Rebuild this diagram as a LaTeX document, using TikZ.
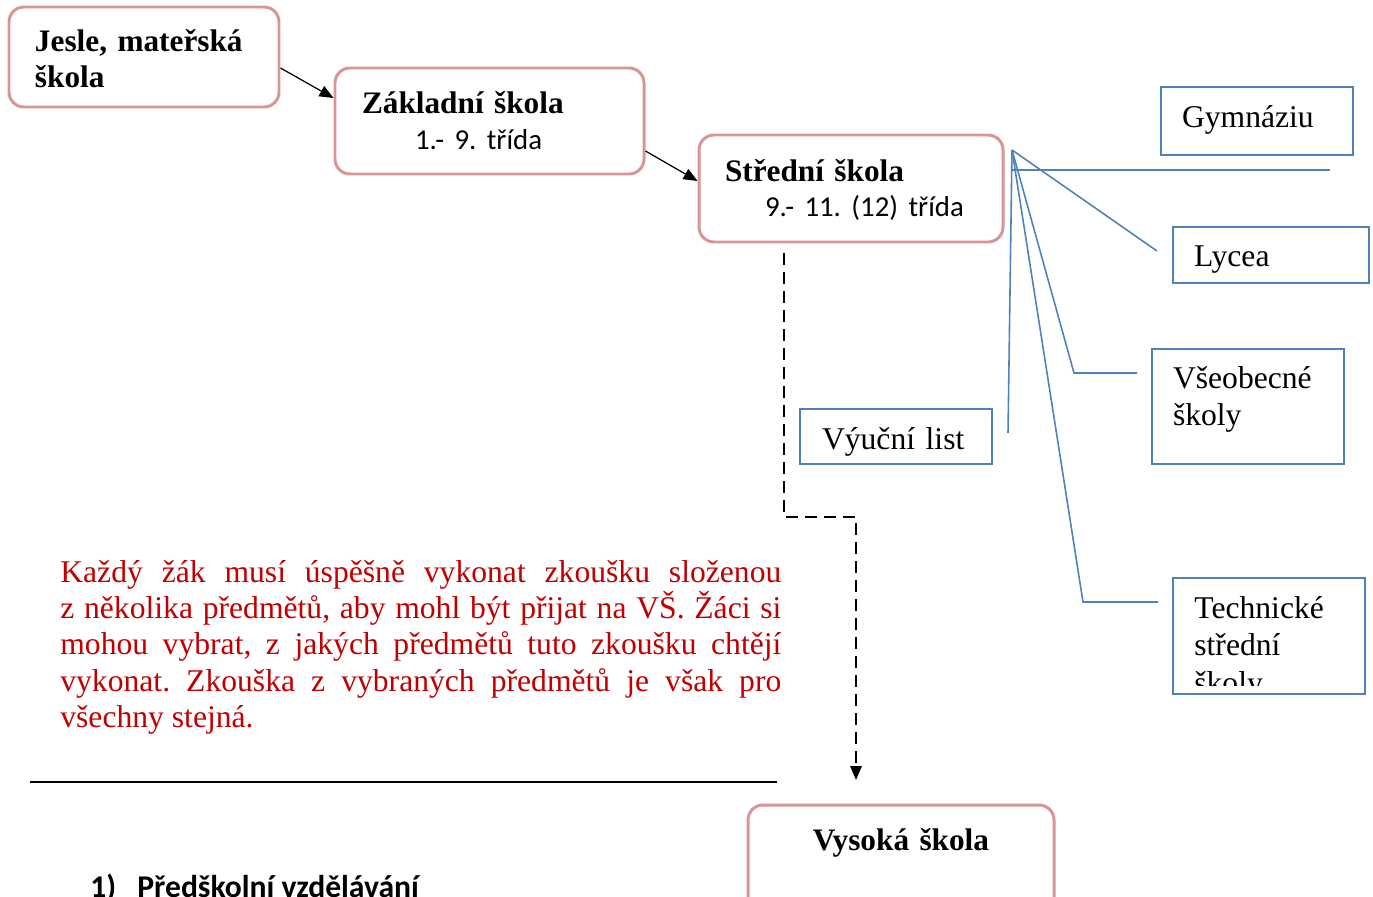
\documentclass[tikz,border=0pt]{standalone}
\usepackage{fontspec}
\setmainfont{Liberation Serif}
\newfontfamily\calibri{Carlito}
\usetikzlibrary{arrows.meta}
\definecolor{boxpink}{HTML}{D99594}
\definecolor{boxblue}{HTML}{4F81BD}
\definecolor{notered}{HTML}{C00000}
\newcommand\tridafont{\calibri\mdseries\fontsize{16.4}{19.8}\selectfont}
\frenchspacing

\begin{document}
\begin{tikzpicture}[x=0.2mm,y=-0.2mm,
  school node/.style={draw=boxpink,line width=1.7pt,rounded corners=3mm,inner ysep=0pt,
    align=left,font=\bfseries\frenchspacing\fontsize{17.8}{20.4}\selectfont},
  type node/.style={draw=boxblue,line width=1.1pt,inner xsep=4.2mm,inner ysep=0pt,
    text width=30mm,align=left,font=\fontsize{18}{21.5}\selectfont},
  fan line/.style={boxblue,line width=0.9pt},
  link/.style={line width=0.7pt,-{Triangle[length=2.8mm,width=2.3mm]}},
  drop line/.style={line width=1pt,dash pattern=on 2.4mm off 1.4mm,
    -{Triangle[length=2.8mm,width=2.3mm]}}]

  \clip (0,0) rectangle (1373,896);

  % school levels
  \node[school node,text width=43.6mm,inner xsep=5.2mm,minimum height=20mm,
    text height=0pt,text depth=2.1mm] (jesle) at (144,57)
    {\mbox{Jesle, mateřská}\\škola};
  \node[school node,text width=51mm,inner xsep=5.4mm,minimum height=21.2mm,
    text height=0pt,text depth=3.1mm] (zakladni) at (489.5,121)
    {Základní škola\\\hspace*{10.6mm}\tridafont 1.- 9. třída};
  \node[school node,text width=50.4mm,inner xsep=5.2mm,minimum height=21.4mm,
    text height=0pt,text depth=3mm] (stredni) at (851,188.5)
    {Střední škola\\\hspace*{8mm}\tridafont 9.- 11. (12) třída};
  \node[school node,align=center,text width=50.4mm,inner xsep=5.4mm,minimum height=21.4mm,
    text height=0pt,text depth=3.4mm] (vysoka) at (901,858.5)
    {Vysoká škola};

  \draw[link] ([yshift=-2.2mm]jesle.east) -- ([yshift=4.6mm]zakladni.west);
  \draw[link] ([yshift=-6mm]zakladni.east) -- ([yshift=1.5mm]stredni.west);

  % types of secondary schools
  \node[type node,minimum height=13.6mm,text height=2.4mm,text depth=0pt] (gym) at (1257,121) {Gymnáziu};
  \node[type node,text width=30.8mm,minimum height=11.2mm,text height=4.7mm,text depth=0pt] (lycea) at (1271,255) {Lycea};
  \node[type node,minimum height=23mm,text height=0pt,text depth=7.4mm] (vseob) at (1248,406.5) {Všeobecné\\školy};
  \node[type node,text width=29.6mm,inner xsep=4.4mm,minimum height=11mm,text height=5mm,text depth=0pt] (vyucni) at (896,436.5) {Výuční list};
  \node[type node,minimum height=23.2mm] (tech) at (1269,636) {};
  \begin{scope}
    \clip (1173,578) rectangle (1365,685);
    \node[anchor=base west,inner sep=0pt,text width=30mm,align=left,
      font=\fontsize{18}{21.5}\selectfont] (techtext) at (1194,618) {Technické\\střední\\školy};
  \end{scope}

  \coordinate (fan) at (1012,150);
  \coordinate (gymstart) at (1012,170);
  \coordinate (gymend) at (1330,170);
  \coordinate (lycend) at (1157,251);
  \coordinate (vseend) at (1137,373);
  \coordinate (techend) at (1158,602);
  \coordinate (vyucend) at (1008,433);
  \draw[fan line] (gymstart) -- (gymend);
  \draw[fan line] (fan) -- (lycend);
  \draw[fan line] (fan) -- (1074,373) -- (vseend);
  \draw[fan line] (fan) -- (1083,602) -- (techend);
  \draw[fan line] (fan) -- (vyucend);

  % way to the university
  \coordinate (drop) at (784,253);
  \coordinate (turn) at (856,517);
  \coordinate (land) at (856,780);
  \draw[drop line] (drop) |- (turn) -- (land);

  \node[anchor=base west,inner sep=0pt,text width=144.2mm,align=justify,text=notered,
    font=\fontsize{18}{20.7}\selectfont] (note) at (60,582)
    {\hyphenpenalty=10000 Každý žák musí úspěšně vykonat zkoušku složenou\linebreak
     z několika předmětů, aby mohl být přijat na VŠ. Žáci si\linebreak
     mohou vybrat, z jakých předmětů tuto zkoušku chtějí\linebreak
     vykonat. Zkouška z vybraných předmětů je však pro\linebreak
     všechny stejná.};

  \draw[line width=1.1pt] (30,782) -- (777,782);

  \node[anchor=base west,inner sep=0pt,font=\calibri\bfseries\fontsize{18}{20}\selectfont] (heading) at (90,897)
    {\makebox[9.4mm][l]{1)}Předškolní vzdělávání};
\end{tikzpicture}
\end{document}
